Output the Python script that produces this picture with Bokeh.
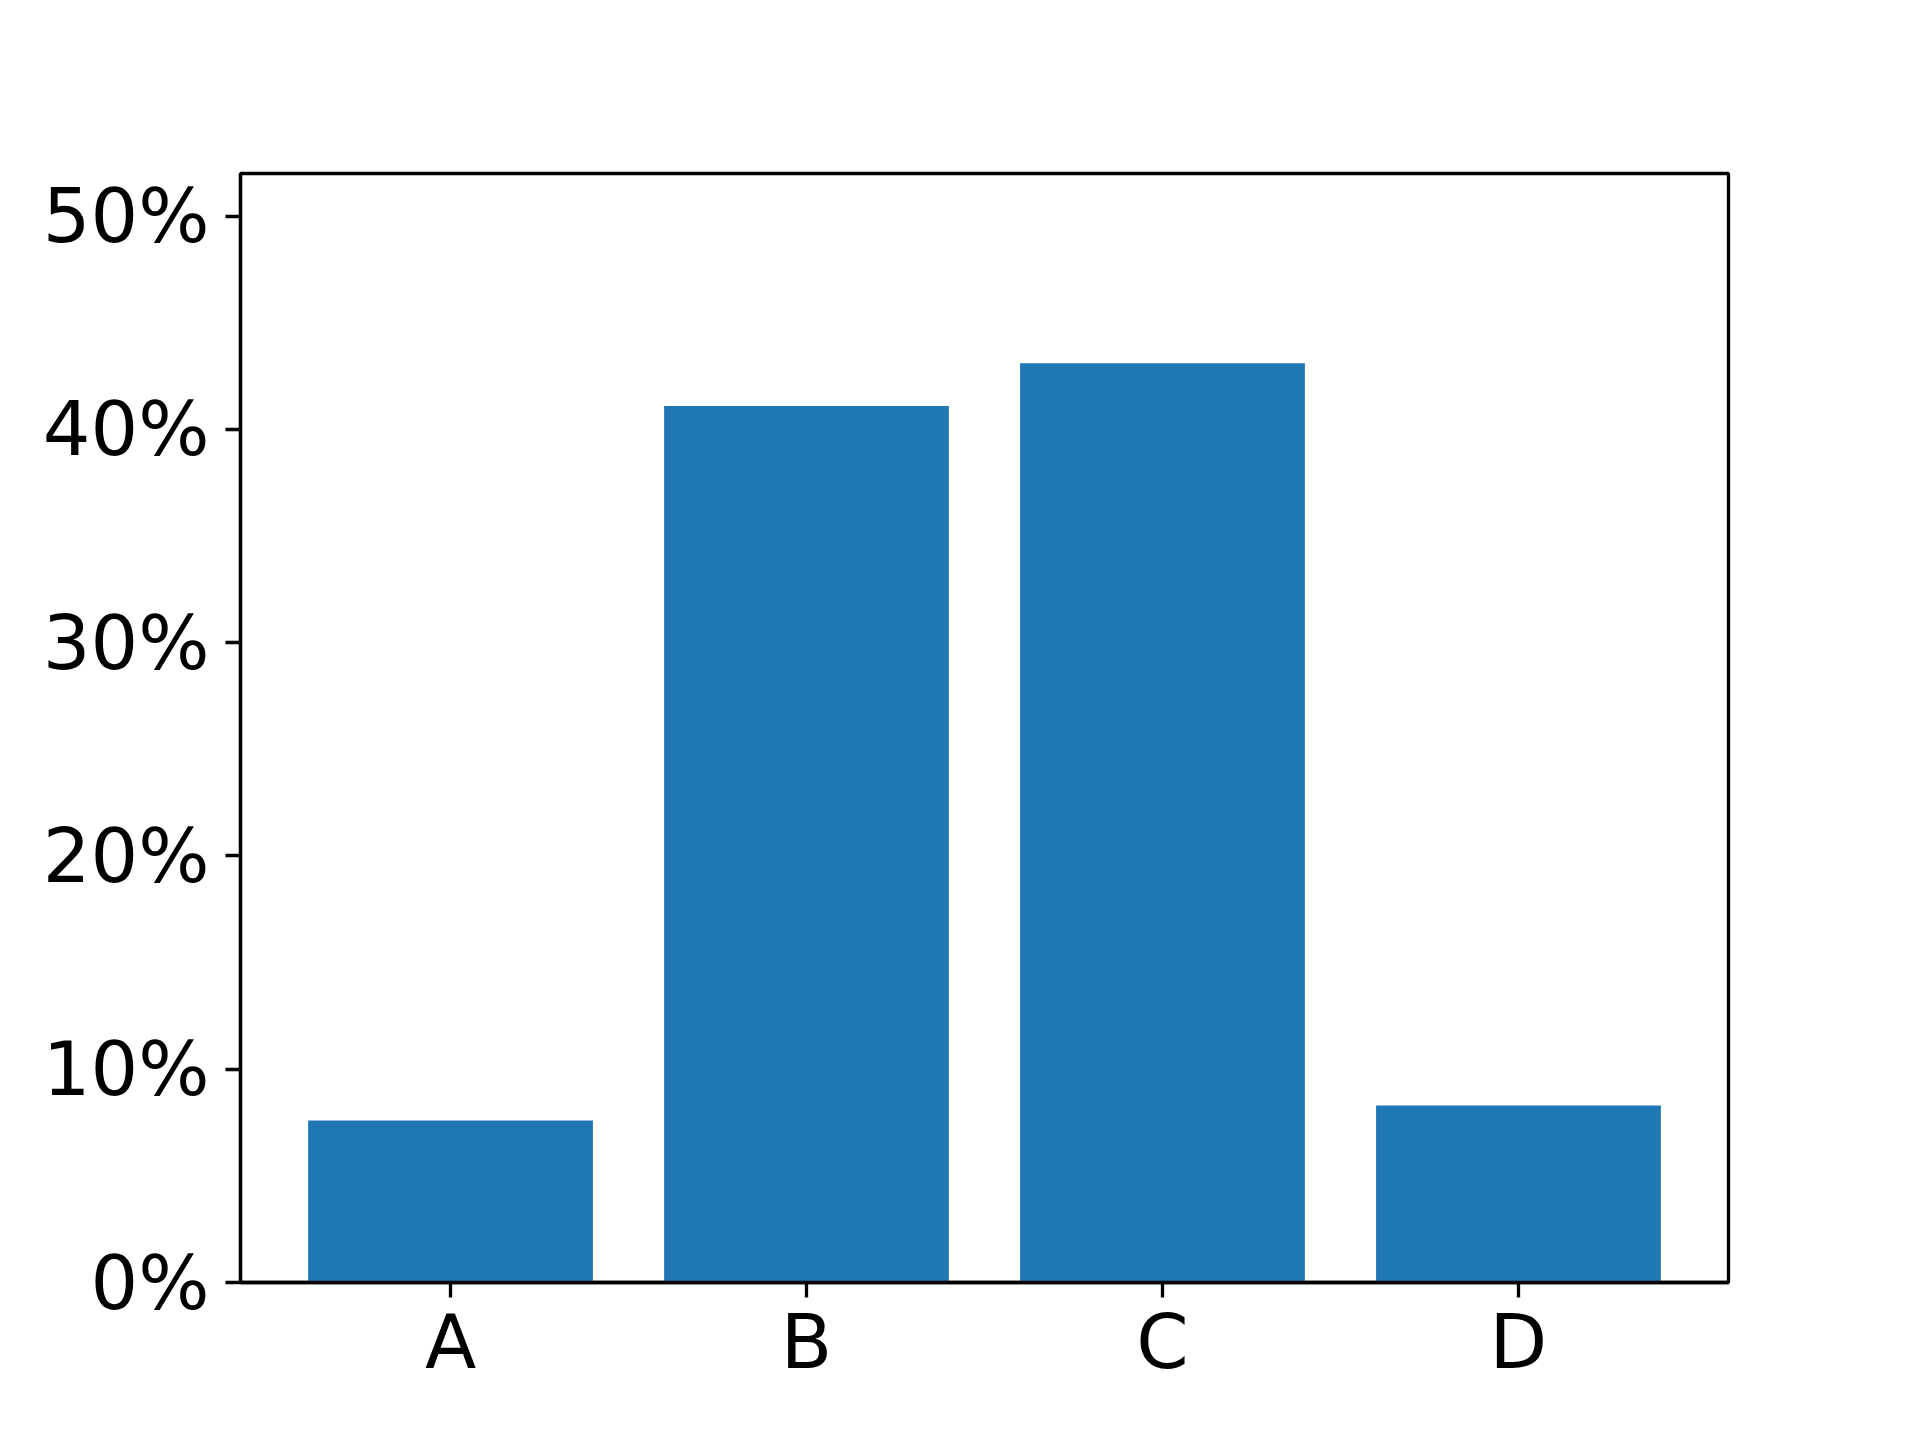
from bokeh.plotting import figure
from bokeh.models import Range1d, FixedTicker, PrintfTickFormatter
from bokeh.embed import file_html
from bokeh.resources import INLINE

categories = ["A", "B", "C", "D"]
values = [7.6, 41.1, 43.1, 8.3]
y_ticks = [0, 10, 20, 30, 40, 50]

xs = list(range(len(categories)))

W, H = 1912, 1432
p = figure(width=W, height=H, output_backend="svg", toolbar_location=None,
           x_range=Range1d(-0.59, len(categories) - 1 + 0.59),
           y_range=Range1d(0, 52),
           min_border_left=240, min_border_right=W - 1728,
           min_border_top=173, min_border_bottom=H - 1282)
p.vbar(x=xs, top=values, width=0.8, bottom=0, color="#1f77b4", line_color=None)

p.xgrid.visible = False
p.ygrid.visible = False
p.outline_line_color = "black"
p.outline_line_width = 3.3
p.outline_line_alpha = 1.0
p.background_fill_color = "white"
p.border_fill_color = "white"

p.xaxis.ticker = FixedTicker(ticks=xs)
p.xaxis.major_label_overrides = {i: c for i, c in enumerate(categories)}
p.yaxis.ticker = FixedTicker(ticks=y_ticks)
p.yaxis.formatter = PrintfTickFormatter(format="%d%%")

for ax in (p.xaxis[0], p.yaxis[0]):
    ax.axis_line_width = 3.3
    ax.axis_line_color = "black"
    ax.major_tick_line_width = 3.3
    ax.major_tick_line_color = "black"
    ax.major_tick_out = 15
    ax.major_tick_in = 0
    ax.minor_tick_line_color = None
    ax.major_label_text_font = "DejaVu Sans"
    ax.major_label_text_font_size = "75px"
    ax.major_label_text_color = "black"

p.xaxis[0].major_label_standoff = 0
p.yaxis[0].major_label_standoff = 16

open("out.html", "w").write(file_html(p, INLINE))
